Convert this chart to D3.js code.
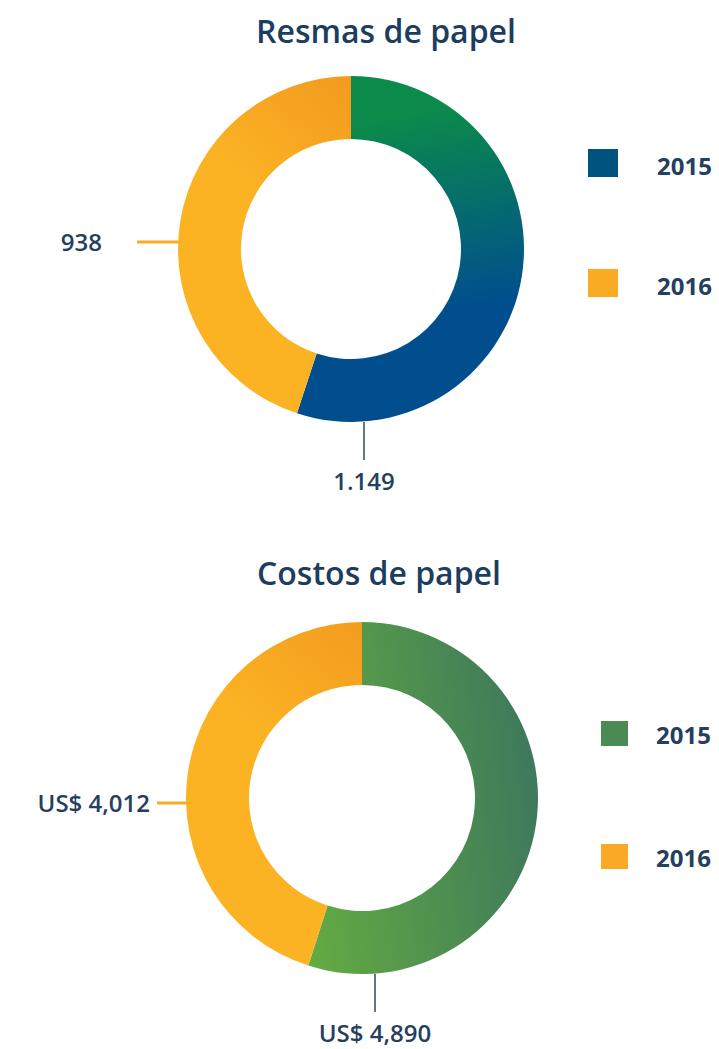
<!DOCTYPE html>
<meta charset="utf-8">
<style>
  body { margin: 0; background: #fff; }
  text { font-family: "Open Sans", sans-serif; fill: #24405e; }
  .title { font-size: 32px; font-weight: 600; fill: #1d3d5e; }
  .label { font-size: 24px; font-weight: 600; }
  .legend text { font-size: 24px; font-weight: 700; }
</style>
<svg width="719" height="1049"></svg>
<script src="https://cdn.jsdelivr.net/npm/d3@7"></script>
<script>

var years = ["2015", "2016"];
var resmas = [1149, 938];
var resmasLabels = ["1.149", "938"];
var costos = [4890, 4012];
var costosLabels = ["US$ 4,890", "US$ 4,012"];

var svg = d3.select("svg"),
    defs = svg.append("defs");

// gradient coords are relative to the donut centre
function grad(id, x1, y1, x2, y2, c1, c2) {
  var g = defs.append("linearGradient")
      .attr("id", id)
      .attr("gradientUnits", "userSpaceOnUse")
      .attr("x1", x1).attr("y1", y1).attr("x2", x2).attr("y2", y2);
  g.append("stop").attr("offset", 0).attr("stop-color", c1);
  g.append("stop").attr("offset", 1).attr("stop-color", c2);
  return "url(#" + id + ")";
}

var pie = d3.pie().sort(null).value(function(d) { return d; });

function donut(opt) {
  var g = svg.append("g").attr("transform", "translate(" + opt.cx + "," + opt.cy + ")");
  var arc = d3.arc().innerRadius(opt.inner).outerRadius(opt.outer);

  svg.append("text")
      .attr("class", "title")
      .attr("x", opt.titleX)
      .attr("y", opt.titleY)
      .attr("text-anchor", "middle")
      .text(opt.title);

  g.selectAll("path")
    .data(pie(opt.values))
    .enter().append("path")
      .attr("d", arc)
      .attr("fill", function(d, i) { return opt.fills[i]; });

  // leader for 2015 (bottom)
  g.append("line")
      .attr("x1", 13).attr("x2", 13)
      .attr("y1", opt.outer).attr("y2", opt.outer + 38)
      .attr("stroke", "#34485c").attr("stroke-width", 1.5);
  g.append("text")
      .attr("class", "label")
      .attr("x", 13)
      .attr("y", opt.outer + 68)
      .attr("text-anchor", "middle")
      .text(opt.labels[0]);

  // leader for 2016 (left)
  g.append("line")
      .attr("x1", -opt.outer + 2).attr("x2", -opt.outer - opt.leadLen)
      .attr("y1", opt.leadY).attr("y2", opt.leadY)
      .attr("stroke", opt.legend[1]).attr("stroke-width", 3);
  g.append("text")
      .attr("class", "label")
      .attr("x", -opt.outer - opt.leadLen - opt.labelGap)
      .attr("y", opt.leadY + 9)
      .attr("text-anchor", "end")
      .text(opt.labels[1]);

  var lg = svg.append("g").attr("class", "legend");
  var item = lg.selectAll("g")
    .data(years)
    .enter().append("g")
      .attr("transform", function(d, i) {
        return "translate(" + opt.legX + "," + (opt.legY + i * opt.legStep) + ")";
      });
  item.append("rect")
      .attr("width", opt.sq).attr("height", opt.sq - 2)
      .attr("fill", function(d, i) { return opt.legend[i]; });
  item.append("text")
      .attr("x", opt.legTextX - opt.legX)
      .attr("y", opt.sq - 4)
      .text(function(d) { return d; });
}

donut({
  title: "Resmas de papel", titleX: 386, titleY: 43,
  cx: 351, cy: 249, outer: 173, inner: 110,
  values: resmas, labels: resmasLabels,
  fills: [grad("g1", 0, -125, 40, 75, "#0b8b4a", "#004e8e"),
          grad("g2", 0, -173, -100, -60, "#f39a1f", "#fbb323")],
  legend: ["#00527f", "#f9ab23"],
  leadLen: 41, leadY: -7, labelGap: 35,
  legX: 588, legY: 149, legStep: 120, sq: 30, legTextX: 657
});

donut({
  title: "Costos de papel", titleX: 379, titleY: 585,
  cx: 362, cy: 798, outer: 176, inner: 113,
  values: costos, labels: costosLabels,
  fills: [grad("g3", -120, 60, 176, 20, "#6cb53d", "#3e7a5b"),
          grad("g4", 0, -176, -100, -60, "#f39c1f", "#fbb323")],
  legend: ["#4a8b54", "#f9a923"],
  leadLen: 29, leadY: 5, labelGap: 7,
  legX: 601, legY: 721, legStep: 123, sq: 27, legTextX: 656
});

</script>
